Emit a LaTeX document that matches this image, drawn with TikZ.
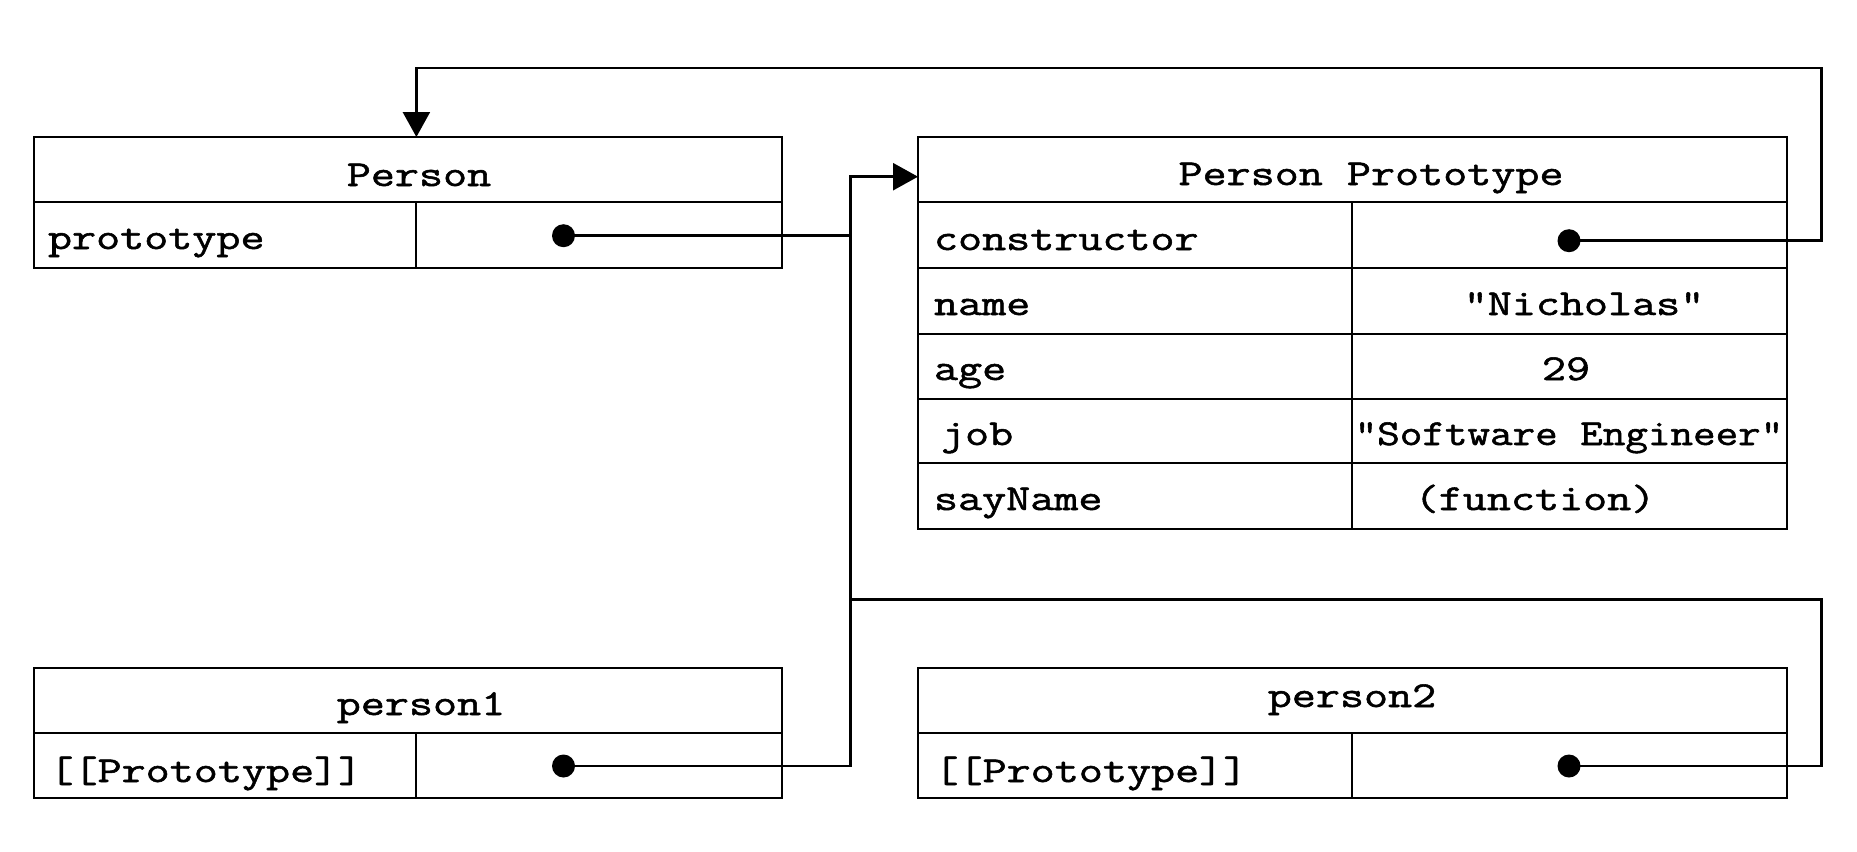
\documentclass[tikz,border=0pt]{standalone}
\usepackage{fontspec}
\newfontfamily\courfont[FakeStretch=1.28,FakeBold=1.5]{Latin Modern Mono}
\newfontfamily\courfontnarrow[FakeStretch=1.20,FakeBold=1.5]{Latin Modern Mono}
\usetikzlibrary{arrows.meta}
\begin{document}
\begin{tikzpicture}[x=1pt,y=-1pt,
  cell/.style={draw, line width=2.6pt, inner sep=0pt, outer sep=0pt, anchor=north west},
  txt/.style={inner sep=0pt, outer sep=0pt, font=\courfont\fontsize{36.5}{37}\selectfont},
  txtnarrow/.style={inner sep=0pt, outer sep=0pt, font=\courfontnarrow\fontsize{36.5}{37}\selectfont},
  dot/.style={circle, fill, inner sep=0pt, outer sep=0pt, minimum size=23pt},
  link/.style={line width=2.5pt},
  tip/.style={-{Triangle[length=25pt,width=27pt]}}
]
\fill[white] (0,0) rectangle (1857,851);
\useasboundingbox (0,0) rectangle (1857,851);

% Person
\node[cell, minimum width=748pt, minimum height=65pt] (personH) at (34,137) {};
\node[cell, minimum width=382pt, minimum height=66pt] (personK) at (34,202) {};
\node[cell, minimum width=366pt, minimum height=66pt] (personV) at (416,202) {};
\node[txt, anchor=base] (tPerson) at (419,186) {Person};
\node[txt, anchor=base west] (tProto) at (48,249) {prototype};

% Person Prototype
\node[cell, minimum width=869pt, minimum height=65pt] (protoH) at (918,137) {};
\node[cell, minimum width=434pt, minimum height=66pt] (k1) at (918,202) {};
\node[cell, minimum width=435pt, minimum height=66pt] (v1) at (1352,202) {};
\node[cell, minimum width=434pt, minimum height=66pt] (k2) at (918,268) {};
\node[cell, minimum width=435pt, minimum height=66pt] (v2) at (1352,268) {};
\node[cell, minimum width=434pt, minimum height=65pt] (k3) at (918,334) {};
\node[cell, minimum width=435pt, minimum height=65pt] (v3) at (1352,334) {};
\node[cell, minimum width=434pt, minimum height=64pt] (k4) at (918,399) {};
\node[cell, minimum width=435pt, minimum height=64pt] (v4) at (1352,399) {};
\node[cell, minimum width=434pt, minimum height=66pt] (k5) at (918,463) {};
\node[cell, minimum width=435pt, minimum height=66pt] (v5) at (1352,463) {};
\node[txt, anchor=base] (tPP) at (1371,185) {Person Prototype};
\node[txt, anchor=base west] (tCons) at (934,250) {constructor};
\node[txt, anchor=base west] (tName) at (934,315) {name};
\node[txt, anchor=base] (tNich) at (1584,315) {"Nicholas"};
\node[txt, anchor=base west] (tAge) at (934,380) {age};
\node[txt, anchor=base] (t29) at (1566,380) {29};
\node[txt, anchor=base west] (tJob) at (941,445) {job};
\node[txtnarrow, anchor=base] (tSE) at (1569,445) {"Software Engineer"};
\node[txt, anchor=base west] (tSay) at (934,510) {sayName};
\node[txt, anchor=base] (tFun) at (1535,510) {(function)};

% person1
\node[cell, minimum width=748pt, minimum height=65pt] (p1H) at (34,668) {};
\node[cell, minimum width=382pt, minimum height=65pt] (p1K) at (34,733) {};
\node[cell, minimum width=366pt, minimum height=65pt] (p1V) at (416,733) {};
\node[txt, anchor=base] (tP1) at (421,715) {person1};
\node[txt, anchor=base west] (tP1k) at (49.5,782) {[[Prototype]]};

% person2
\node[cell, minimum width=869pt, minimum height=65pt] (p2H) at (918,668) {};
\node[cell, minimum width=434pt, minimum height=65pt] (p2K) at (918,733) {};
\node[cell, minimum width=435pt, minimum height=65pt] (p2V) at (1352,733) {};
\node[txt, anchor=base] (tP2) at (1352,707) {person2};
\node[txt, anchor=base west] (tP2k) at (934.5,782) {[[Prototype]]};

% dots
\node[dot] (d1) at (563.5,235.7) {};
\node[dot] (d2) at (1569,240.7) {};
\node[dot] (d3) at (563.5,766) {};
\node[dot] (d4) at (1569,766) {};

% bend points
\coordinate (jtop) at (850.5,176.7);
\coordinate (jbot) at (850.5,766);
\coordinate (jmid) at (850.5,599.3);
\coordinate (rtop) at (1821.4,68);
\coordinate (rbot) at (1821.4,766);
\coordinate (ltop) at (416.4,68);

% connectors
\draw[link] (d1.center) -- (d1.center -| jtop);
\draw[link, tip] (d3.center) -- (jbot) -- (jtop) -- (jtop -| protoH.west);
\draw[link] (d4.center) -- (rbot) -- (rbot |- jmid) -- (jmid);
\draw[link, tip] (d2.center) -- (d2.center -| rtop) -- (rtop) -- (ltop) -- (ltop |- personH.north);
\end{tikzpicture}
\end{document}
